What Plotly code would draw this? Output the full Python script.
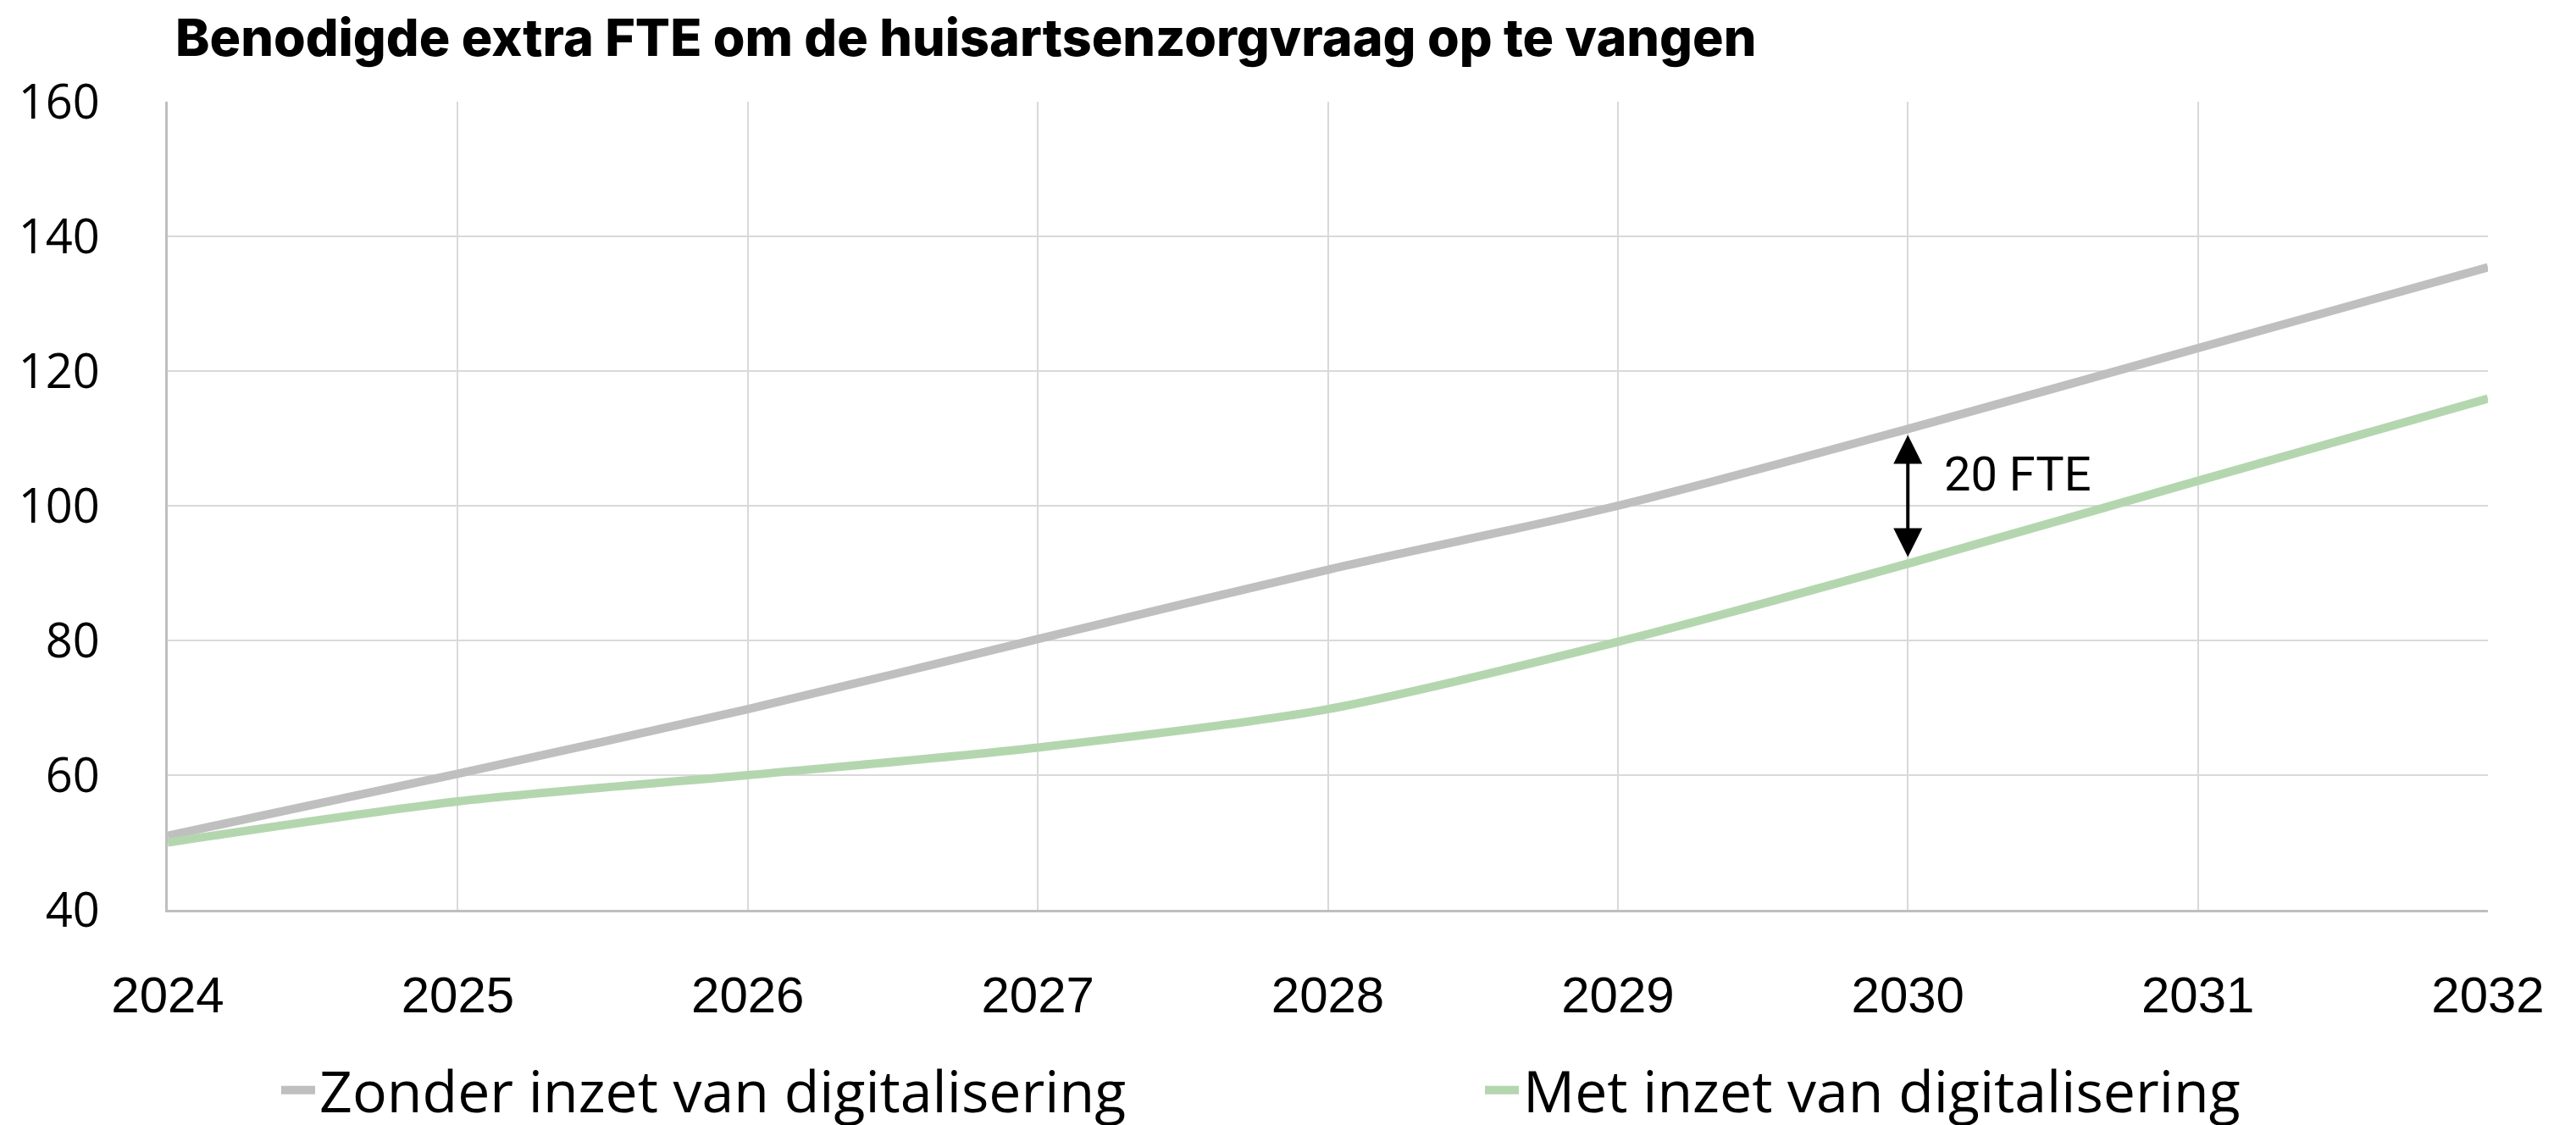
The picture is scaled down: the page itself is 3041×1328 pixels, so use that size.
import plotly.graph_objects as go

years = [2024, 2025, 2026, 2027, 2028, 2029, 2030, 2031, 2032]
zonder = [51, 60.2, 69.8, 80.2, 90.5, 100, 111.4, 123.4, 135.4]
met = [50, 56.1, 60, 64.1, 69.8, 79.8, 91.4, 103.7, 115.9]

series_names = ["Zonder inzet van digitalisering", "Met inzet van digitalisering"]
y_ticks = [40, 60, 80, 100, 120, 140, 160]
title_text = "Benodigde extra FTE om de huisartsenzorgvraag op te vangen"
gap_label = "20 FTE"
gap_year = 2030

W, H = 3041, 1328
OFF = 8  # page body margin
L, R, T, B = 198 - OFF, 104 + OFF, 120 - OFF, 254 + OFF

fig = go.Figure()
fig.add_trace(go.Scatter(x=years, y=zonder, mode="lines", name=series_names[0], legend="legend",
                         line=dict(color="#BFBFBF", width=10, shape="spline", smoothing=0.8)))
fig.add_trace(go.Scatter(x=years, y=met, mode="lines", name=series_names[1], legend="legend2",
                         line=dict(color="#B4D6AF", width=10, shape="spline", smoothing=0.8)))

top_val = zonder[years.index(gap_year)]
bot_val = met[years.index(gap_year)]
fig.add_annotation(x=gap_year, y=bot_val + 1.0, ax=gap_year, ay=top_val - 0.7,
                   xref="x", yref="y", axref="x", ayref="y", text="",
                   showarrow=True, arrowhead=2, arrowside="end+start",
                   arrowsize=1.7, arrowwidth=4, arrowcolor="#000000")
fig.add_annotation(x=gap_year + 0.12, y=(top_val + bot_val) / 2 + 3.3, xref="x", yref="y",
                   text=gap_label, showarrow=False, xanchor="left", yanchor="middle",
                   font=dict(family="Roboto", size=56, color="#000000"))

leg_common = dict(orientation="h", xref="container", yref="container",
                  xanchor="left", yanchor="middle", y=1 - (1287 - OFF) / H,
                  font=dict(family="Open Sans", size=68, color="#000000"),
                  itemwidth=40, bgcolor="rgba(0,0,0,0)")

fig.update_layout(
    width=W, height=H,
    margin=dict(l=L, r=R, t=T, b=B, autoexpand=False),
    paper_bgcolor="white", plot_bgcolor="white",
    title=dict(text=title_text, x=(207 - OFF) / W, xanchor="left", xref="container",
               y=1 - (45 - OFF) / H, yanchor="middle", yref="container",
               font=dict(family="Inter", size=61, color="#000000", weight=800)),
    showlegend=True,
    legend=dict(x=319 / W, **leg_common),
    legend2=dict(x=1740 / W, **leg_common),
)
fig.update_xaxes(range=[2024, 2032], tickvals=years, ticktext=[str(y) for y in years],
                 showgrid=True, gridcolor="#D9D9D9", gridwidth=2,
                 showline=True, linecolor="#BFBFBF", linewidth=3,
                 zeroline=False, ticks="", ticklabelstandoff=46,
                 tickfont=dict(family="Liberation Sans", size=60, color="#000000"))
fig.update_yaxes(range=[40, 160], tickvals=y_ticks,
                 showgrid=True, gridcolor="#D9D9D9", gridwidth=2,
                 showline=True, linecolor="#BFBFBF", linewidth=3,
                 zeroline=False, ticks="", ticklabelstandoff=66,
                 tickfont=dict(family="Open Sans", size=56, color="#000000"))

fig.write_html("out.html")
